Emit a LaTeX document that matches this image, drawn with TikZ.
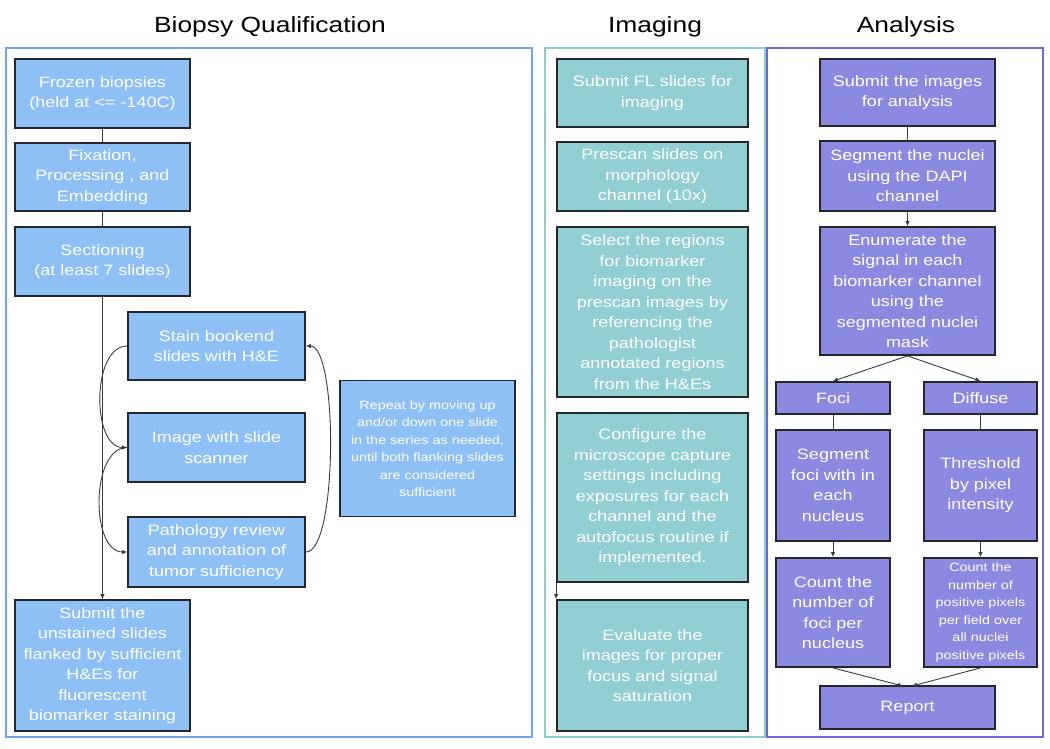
\documentclass[tikz,border=0pt]{standalone}
\usepackage{fontspec}
\setmainfont{Liberation Sans}
\newfontfamily\boxfont[FakeStretch=1.2]{Liberation Sans}
\usetikzlibrary{arrows.meta}
\definecolor{bqfill}{RGB}{143,192,245}
\definecolor{bqframe}{RGB}{110,165,235}
\definecolor{imfill}{RGB}{145,207,210}
\definecolor{imframe}{RGB}{140,205,205}
\definecolor{anfill}{RGB}{140,137,224}
\definecolor{anframe}{RGB}{120,100,215}
\definecolor{edge}{RGB}{35,38,45}
\tikzset{
  stepbox/.style={draw=edge, line width=1.8pt, text=white, align=center, inner sep=2pt,
    font=\boxfont\fontsize{15}{20.5}\selectfont},
  bq/.style={stepbox, fill=bqfill},
  im/.style={stepbox, fill=imfill},
  an/.style={stepbox, fill=anfill},
  small/.style={font=\boxfont\fontsize{12}{17.5}\selectfont},
  frame/.style={line width=1.4pt},
  ttl/.style={font=\boxfont\fontsize{22}{26}\selectfont, text=black},
  conn/.style={draw=edge!90, line width=0.9pt},
  arr/.style={conn, -{Latex[length=5pt,width=4.5pt]}},
}
\begin{document}
\begin{tikzpicture}[x=1pt,y=-1pt]
\useasboundingbox (0,0) rectangle (1050,749);
\fill[white] (0,0) rectangle (1050,749);
% titles
\node[ttl] (t1) at (270,27) {Biopsy Qualification};
\node[ttl] (t2) at (655,27) {Imaging};
\node[ttl] (t3) at (906,27) {Analysis};
% frames
\draw[frame, draw=bqframe] (6,48) rectangle (532,737);
\draw[frame, draw=imframe] (545,48) rectangle (765,737);
\draw[frame, draw=anframe] (767,48) rectangle (1043,737);
% Biopsy Qualification
\node[bq, minimum width=175pt, minimum height=69pt] (frz) at (102.5,93.5) {Frozen biopsies\\(held at <= -140C)};
\node[bq, minimum width=175pt, minimum height=68pt] (fix) at (102.5,177) {Fixation,\\Processing , and\\Embedding};
\node[bq, minimum width=175pt, minimum height=69pt] (sec) at (102.5,261.5) {Sectioning\\(at least 7 slides)};
\node[bq, minimum width=177pt, minimum height=68pt] (stn) at (216.5,346) {Stain bookend\\slides with H\&E};
\node[bq, minimum width=177pt, minimum height=69pt] (img) at (216.5,447.5) {Image with slide\\scanner};
\node[bq, minimum width=177pt, minimum height=70pt] (pth) at (216.5,552) {Pathology review\\and annotation of\\tumor sufficiency};
\node[bq, small, minimum width=175pt, minimum height=136pt] (rep) at (427.5,448.5) {Repeat by moving up\\and/or down one slide\\in the series as needed,\\until both flanking slides\\are considered\\sufficient};
\node[bq, minimum width=175pt, minimum height=131pt] (sub) at (102.5,665.5) {Submit the\\unstained slides\\flanked by sufficient\\H\&Es for\\fluorescent\\biomarker staining};
\draw[conn] (frz) -- (fix);
\draw[conn] (fix) -- (sec);
\draw[arr] (sec) -- (sub);
\draw[arr] (stn.west) to[out=180,in=180,looseness=0.9] (img.west);
\draw[arr] (img.west) to[out=180,in=180,looseness=0.9] (pth.west);
\draw[arr] (pth.east) to[out=0,in=0,looseness=0.4] (stn.east);
% Imaging
\node[im, minimum width=191pt, minimum height=68pt] (sfl) at (652.5,93) {Submit FL slides for\\imaging};
\node[im, minimum width=191pt, minimum height=69pt] (pre) at (652.5,176.5) {Prescan slides on\\morphology\\channel (10x)};
\node[im, minimum width=191pt, minimum height=170pt] (sel) at (652.5,312) {Select the regions\\for biomarker\\imaging on the\\prescan images by\\referencing the\\pathologist\\annotated regions\\from the H\&Es};
\node[im, minimum width=191pt, minimum height=169pt] (cfg) at (652.5,497.5) {Configure the\\microscope capture\\settings including\\exposures for each\\channel and the\\autofocus routine if\\implemented.};
\node[im, minimum width=191pt, minimum height=131pt] (evl) at (652.5,665.5) {Evaluate the\\images for proper\\focus and signal\\saturation};
\draw[arr] (cfg.south west) -- (evl.north west);
% Analysis
\node[an, minimum width=175pt, minimum height=67pt] (sim) at (907.5,92.5) {Submit the images\\for analysis};
\node[an, minimum width=175pt, minimum height=70pt] (seg) at (907.5,176) {Segment the nuclei\\using the DAPI\\channel};
\node[an, minimum width=175pt, minimum height=128pt] (enu) at (907.5,291) {Enumerate the\\signal in each\\biomarker channel\\using the\\segmented nuclei\\mask};
\node[an, minimum width=114pt, minimum height=32pt] (foc) at (833,398) {Foci};
\node[an, minimum width=113pt, minimum height=32pt] (dif) at (980.5,398) {Diffuse};
\node[an, minimum width=114pt, minimum height=111pt] (sgf) at (833,485.5) {Segment\\foci with in\\each\\nucleus};
\node[an, minimum width=113pt, minimum height=111pt] (thr) at (980.5,485.5) {Threshold\\by pixel\\intensity};
\node[an, minimum width=114pt, minimum height=109pt] (cnf) at (833,612.5) {Count the\\number of\\foci per\\nucleus};
\node[an, small, minimum width=113pt, minimum height=109pt] (cnp) at (980.5,612.5) {Count the\\number of\\positive pixels\\per field over\\all nuclei\\positive pixels};
\node[an, minimum width=175pt, minimum height=43pt] (rpt) at (907.5,707.5) {Report};
\coordinate (rptl) at (903,686);
\coordinate (rptr) at (912,686);
\draw[conn] (sim) -- (seg);
\draw[arr] (seg) -- (enu);
\draw[arr] (enu.south) -- (foc.north);
\draw[arr] (enu.south) -- (dif.north);
\draw[conn] (foc) -- (sgf);
\draw[conn] (dif) -- (thr);
\draw[arr] (sgf) -- (cnf);
\draw[arr] (thr) -- (cnp);
\draw[arr] (cnf.south) -- (rptl);
\draw[arr] (cnp.south) -- (rptr);
\end{tikzpicture}
\end{document}
